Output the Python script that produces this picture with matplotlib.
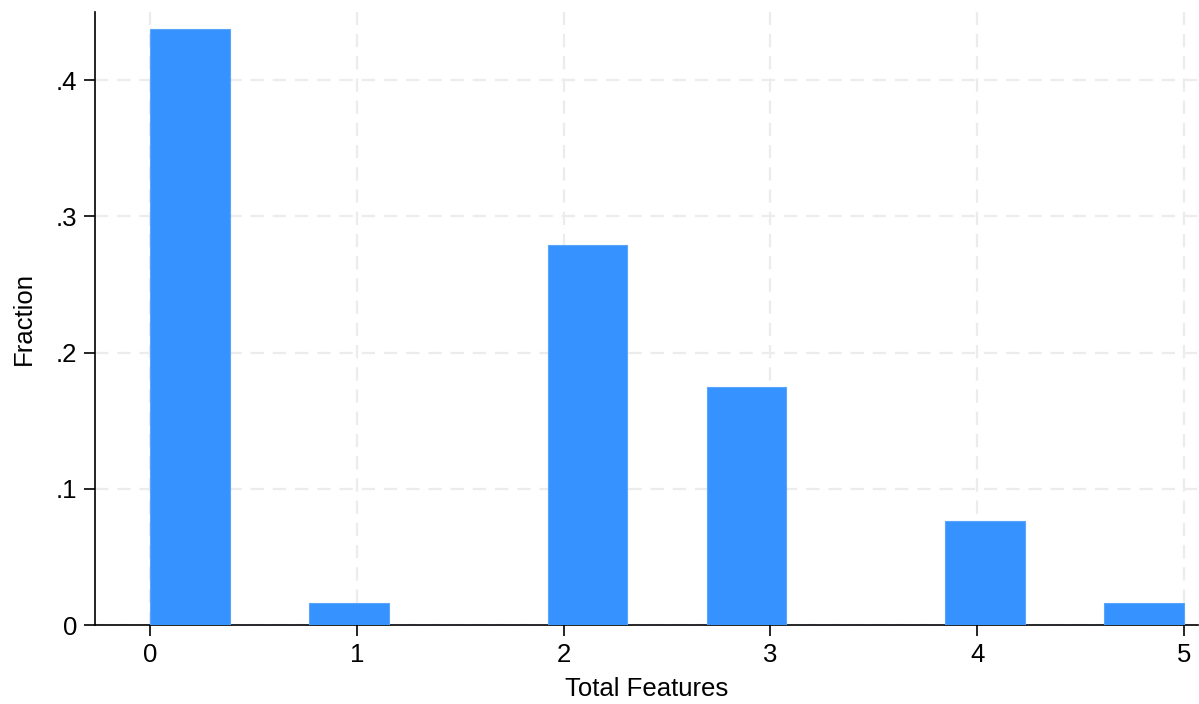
import numpy as np
import matplotlib
matplotlib.use("Agg")
import matplotlib.pyplot as plt
from matplotlib.ticker import FuncFormatter

plt.rcParams['font.family'] = ['Liberation Sans', 'DejaVu Sans']

# histogram: 13 bins over [0, 5], fraction per bin
bin_range = (0, 5)
n_bins = 13
fractions = [0.4374, 0, 0.0161, 0, 0, 0.2789, 0, 0.1749, 0, 0, 0.0763, 0, 0.0161]
x_ticks = [0, 1, 2, 3, 4, 5]
y_ticks = [0, 0.1, 0.2, 0.3, 0.4]

edges = np.linspace(bin_range[0], bin_range[1], n_bins + 1)

fig = plt.figure(figsize=(11.99, 7.04), dpi=100)
ax = fig.add_axes([0.0792, 0.1122, 0.9200, 0.8708])

ax.bar(edges[:-1], fractions, width=np.diff(edges), align='edge',
       color='#3592FE', edgecolor='#5aa5fb', linewidth=0.8, zorder=3)

ax.set_xlim(-0.266, 5.068)
ax.set_ylim(0, 0.45)
ax.set_xticks(x_ticks)
ax.set_yticks(y_ticks)
ax.yaxis.set_major_formatter(FuncFormatter(lambda v, p: '0' if v == 0 else f'{v:.1f}'.lstrip('0')))

ax.grid(True, color='#ececec', linestyle=(0, (6, 4)), linewidth=1.6, zorder=0)
for s in ['top', 'right']:
    ax.spines[s].set_visible(False)
for s in ['left', 'bottom']:
    ax.spines[s].set_linewidth(1.2)
ax.tick_params(axis='both', length=8, width=1.2, labelsize=18.5, pad=5)

ax.set_xlabel('Total Features', fontsize=18.5, labelpad=7)
ax.set_ylabel('Fraction', fontsize=18.5, labelpad=14)

fig.savefig('out.png', dpi=100)
